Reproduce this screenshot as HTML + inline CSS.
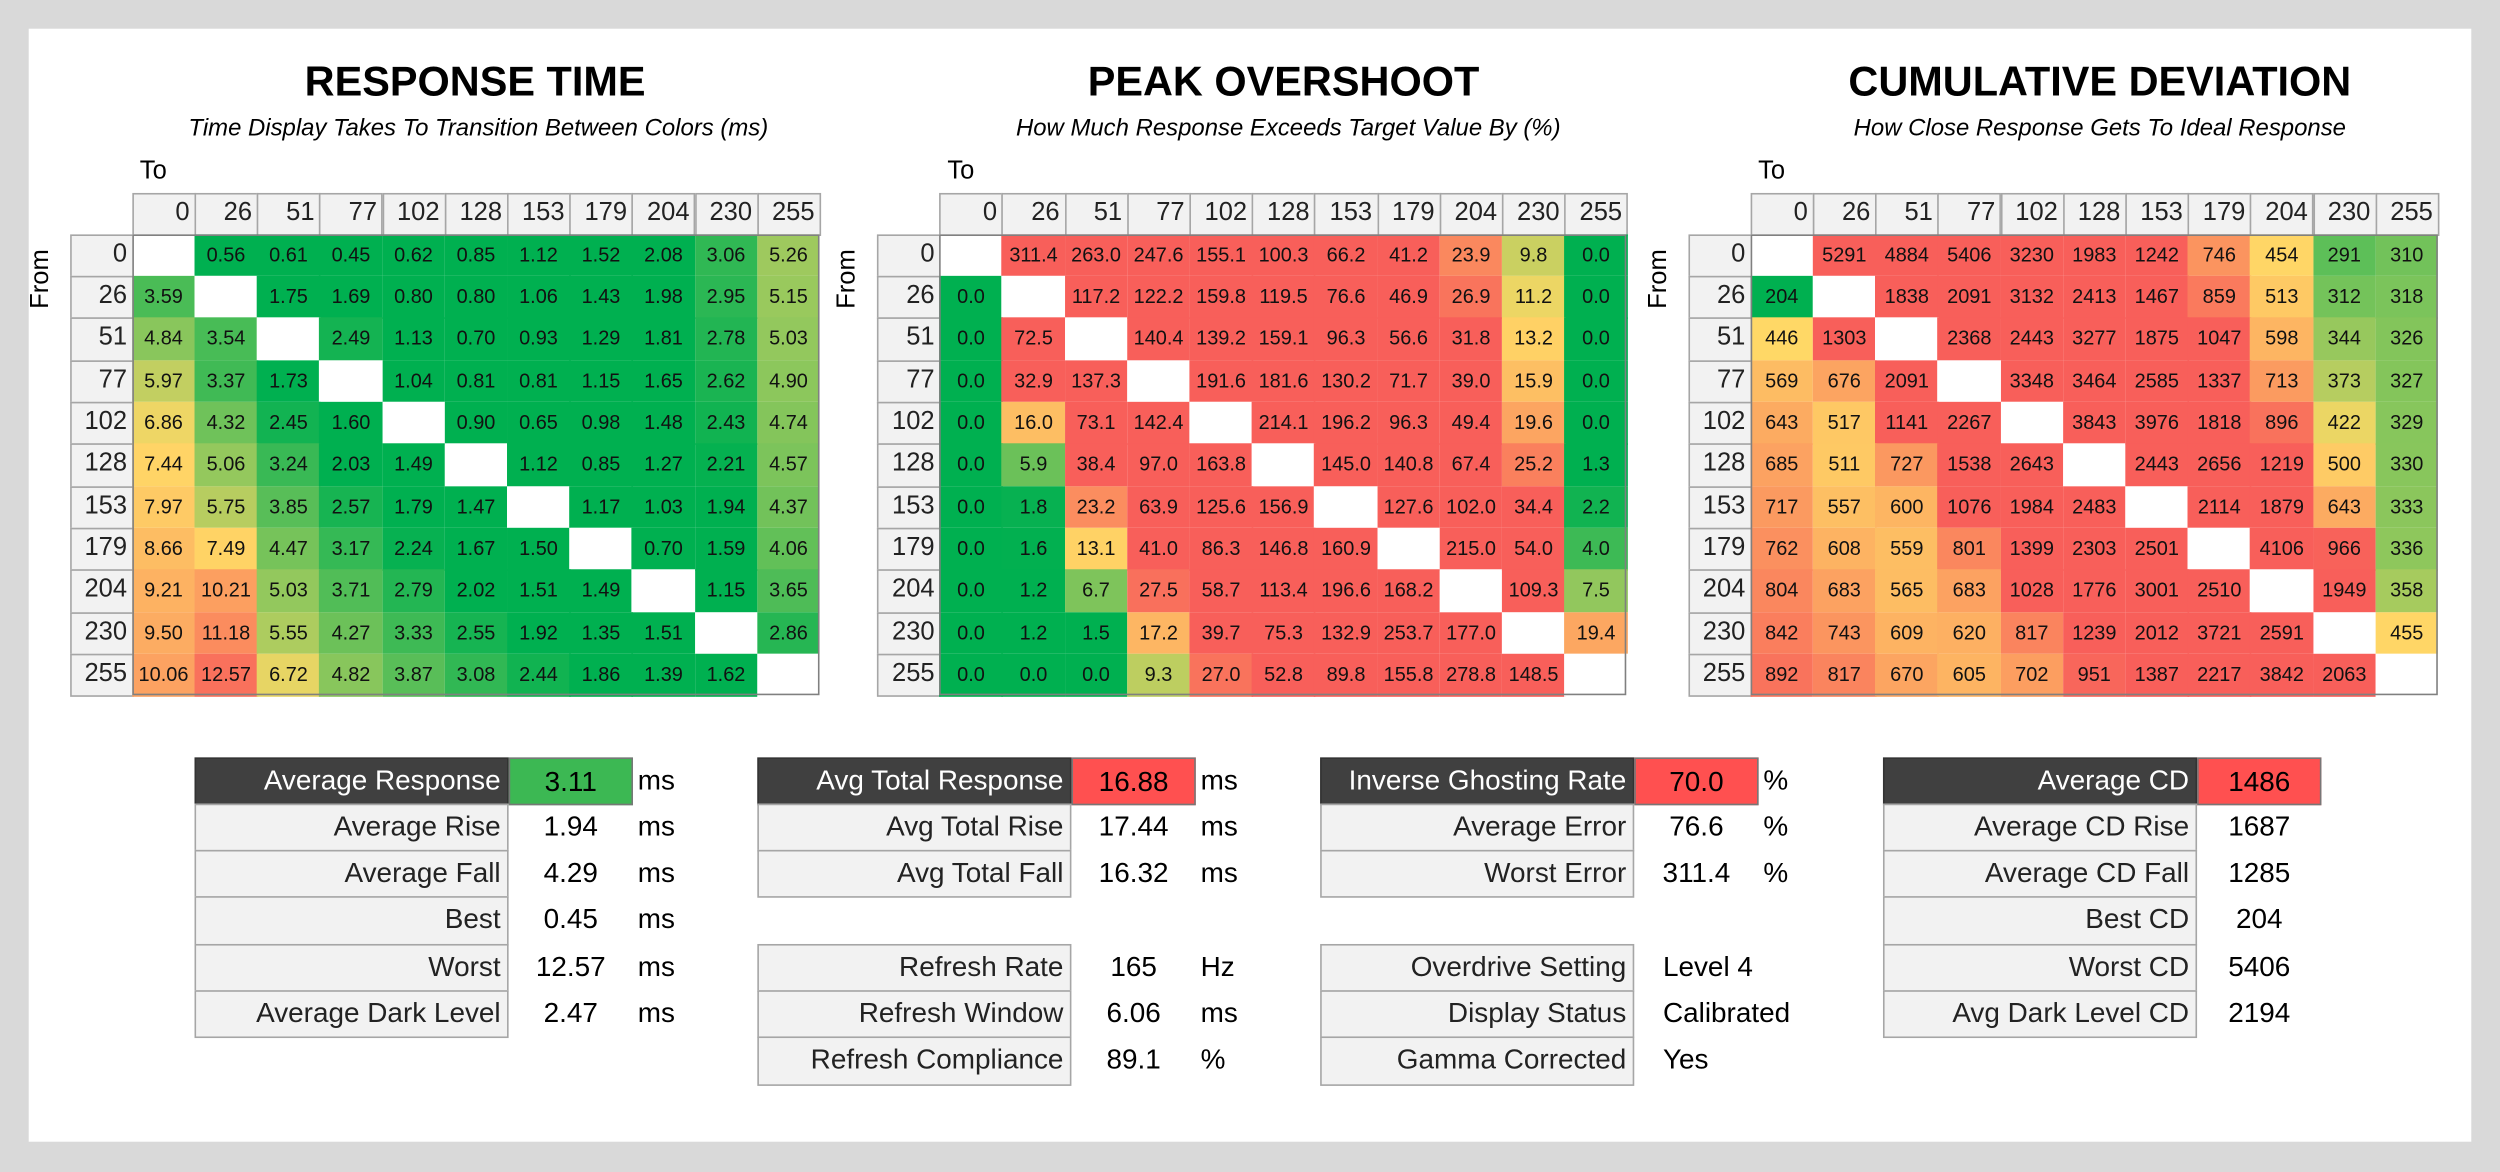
<!DOCTYPE html>
<html><head><meta charset="utf-8">
<style>
html,body{margin:0;padding:0;width:2500px;height:1172px;overflow:hidden;background:#d9d9d9;}
#root{position:absolute;left:0;top:0;width:1568px;height:735px;transform:scale(1.59439,1.59456);transform-origin:0 0;font-family:"Liberation Sans Narrow","Liberation Sans",sans-serif;}
#panel{position:absolute;left:18px;top:18px;width:1532px;height:698px;background:#fff;}
.a{position:absolute;box-sizing:border-box;white-space:nowrap;}
.title{font-weight:bold;font-size:26px;text-align:center;width:500px;}
.sub{font-style:italic;font-size:15px;text-align:center;width:500px;}
.hd{background:#f2f2f2;border:1px solid #a6a6a6;font-size:16px;text-align:right;padding-right:3px;line-height:24px;color:#222;}
.cell{font-size:12.5px;text-align:center;color:#111;}
.lab{background:#f2f2f2;border:1px solid #a6a6a6;font-size:17.5px;text-align:right;padding-right:4px;color:#222;}
.val{font-size:17.5px;text-align:center;color:#000;}
</style></head>
<body>
<div id="root">
<div id="panel"></div>
<div class="a title" style="left:48px;top:36px">RESPONSE TIME</div>
<div class="a sub" style="left:50px;top:72px">Time Display Takes To Transition Between Colors (ms)</div>
<div class="a title" style="left:555px;top:36px">PEAK OVERSHOOT</div>
<div class="a sub" style="left:558px;top:72px">How Much Response Exceeds Target Value By (%)</div>
<div class="a title" style="left:1067px;top:36px">CUMULATIVE DEVIATION</div>
<div class="a sub" style="left:1067px;top:72px">How Close Response Gets To Ideal Response</div>
</div>
<script>
const levels=["0","26","51","77","102","128","153","179","204","230","255"];
const rtRows=[
[null,0.56,0.61,0.45,0.62,0.85,1.12,1.52,2.08,3.06,5.26],
[3.59,null,1.75,1.69,0.80,0.80,1.06,1.43,1.98,2.95,5.15],
[4.84,3.54,null,2.49,1.13,0.70,0.93,1.29,1.81,2.78,5.03],
[5.97,3.37,1.73,null,1.04,0.81,0.81,1.15,1.65,2.62,4.90],
[6.86,4.32,2.45,1.60,null,0.90,0.65,0.98,1.48,2.43,4.74],
[7.44,5.06,3.24,2.03,1.49,null,1.12,0.85,1.27,2.21,4.57],
[7.97,5.75,3.85,2.57,1.79,1.47,null,1.17,1.03,1.94,4.37],
[8.66,7.49,4.47,3.17,2.24,1.67,1.50,null,0.70,1.59,4.06],
[9.21,10.21,5.03,3.71,2.79,2.02,1.51,1.49,null,1.15,3.65],
[9.50,11.18,5.55,4.27,3.33,2.55,1.92,1.35,1.51,null,2.86],
[10.06,12.57,6.72,4.82,3.87,3.08,2.44,1.86,1.39,1.62,null]];
const osRows=[
[null,311.4,263.0,247.6,155.1,100.3,66.2,41.2,23.9,9.8,0.0],
[0.0,null,117.2,122.2,159.8,119.5,76.6,46.9,26.9,11.2,0.0],
[0.0,72.5,null,140.4,139.2,159.1,96.3,56.6,31.8,13.2,0.0],
[0.0,32.9,137.3,null,191.6,181.6,130.2,71.7,39.0,15.9,0.0],
[0.0,16.0,73.1,142.4,null,214.1,196.2,96.3,49.4,19.6,0.0],
[0.0,5.9,38.4,97.0,163.8,null,145.0,140.8,67.4,25.2,1.3],
[0.0,1.8,23.2,63.9,125.6,156.9,null,127.6,102.0,34.4,2.2],
[0.0,1.6,13.1,41.0,86.3,146.8,160.9,null,215.0,54.0,4.0],
[0.0,1.2,6.7,27.5,58.7,113.4,196.6,168.2,null,109.3,7.5],
[0.0,1.2,1.5,17.2,39.7,75.3,132.9,253.7,177.0,null,19.4],
[0.0,0.0,0.0,9.3,27.0,52.8,89.8,155.8,278.8,148.5,null]];
const cdRows=[
[null,5291,4884,5406,3230,1983,1242,746,454,291,310],
[204,null,1838,2091,3132,2413,1467,859,513,312,318],
[446,1303,null,2368,2443,3277,1875,1047,598,344,326],
[569,676,2091,null,3348,3464,2585,1337,713,373,327],
[643,517,1141,2267,null,3843,3976,1818,896,422,329],
[685,511,727,1538,2643,null,2443,2656,1219,500,330],
[717,557,600,1076,1984,2483,null,2114,1879,643,333],
[762,608,559,801,1399,2303,2501,null,4106,966,336],
[804,683,565,683,1028,1776,3001,2510,null,1949,358],
[842,743,609,620,817,1239,2012,3721,2591,null,455],
[892,817,670,605,702,951,1387,2217,3842,2063,null]];
const rtStops=[2.1,7.2,13.5];
const osStops=[1.5,12,30];
const cdStops=[205,440,980];

const root=document.getElementById('root');
const G=[0,176,80],Y=[255,217,102],R=[248,95,90];
function mix(a,b,t){return 'rgb('+a.map((v,i)=>Math.round(v+(b[i]-v)*t)).join(',')+')';}
function colorFor(v,s){
  if(v<=s[0])return mix(G,G,0);
  if(v<=s[1])return mix(G,Y,(v-s[0])/(s[1]-s[0]));
  if(v<=s[2])return mix(Y,R,(v-s[1])/(s[2]-s[1]));
  return mix(R,R,0);
}
function mk(cls,x,y,w,h,txt){
  const d=document.createElement('div');d.className='a '+cls;
  d.style.left=x+'px';d.style.top=y+'px';d.style.width=w+'px';d.style.height=h+'px';
  if(txt!==undefined)d.textContent=txt;root.appendChild(d);return d;
}
const colW=39.2,rowH=26.35,headY=121,headH=25.5,rowY0=146.5;
function heat(prefix,x0,rows,fmt,stops){
  const cx=x0+colW;
  const to=mk('',cx+5,99,30,20,'To');to.style.fontSize='16px';
  
  
  const fr=mk('',x0-42,165,50,20,'From');fr.style.fontSize='16px';fr.style.transform='rotate(-90deg)';fr.style.textAlign='center';
  
  
  levels.forEach((l,j)=>{
    const h=mk('hd',cx+j*colW,headY,colW+1,headH+1,l);
    
    
    const r=mk('hd',x0,rowY0+j*rowH,colW+1,rowH+1,l);r.style.lineHeight=(rowH-2)+'px';
    
    
  });
  rows.forEach((row,i)=>{row.forEach((v,j)=>{
    const c=mk('cell',cx+j*colW,rowY0+i*rowH,colW+0.5,rowH+0.5,v===null?'':fmt(v));
    c.style.lineHeight=rowH+'px';
    c.style.background=v===null?'#fff':colorFor(v,stops);
    
    
  });});
  const b=mk('',cx,rowY0,11*colW,11*rowH);b.style.border='1px solid #808080';
  
  
}
heat('response-time',43.5,rtRows,v=>v.toFixed(2),rtStops);
heat('overshoot',550,osRows,v=>v.toFixed(1),osStops);
heat('cum-deviation',1058.5,cdRows,v=>String(v),cdStops);

const tY0=474.5,tH=29.3;
function trow(prefix,tx,i,label,value,unit,hl){
  const y=tY0+i*tH;
  const l=mk('lab',tx,y,197,tH+1,label);l.style.lineHeight=(tH-2)+'px';
  if(hl){l.style.background='#404040';l.style.color='#fff';l.style.borderColor='#333';}
  
  
  const v=mk('val',tx+197,y,78,tH+1,value);v.style.lineHeight=tH+'px';
  if(hl){v.style.background=hl;v.style.border='1px solid #777';}
  if(value.length>6){v.style.textAlign='left';v.style.paddingLeft='18px';v.style.width='120px';}
  
  
  if(unit){const u=mk('val',tx+278,y,30,tH,unit);u.style.textAlign='left';u.style.lineHeight=tH+'px';
    
    }
}
trow('average-response',122,0,'Average Response','3.11','ms','#3cb853');
trow('average-rise',122,1,'Average Rise','1.94','ms');
trow('average-fall',122,2,'Average Fall','4.29','ms');
trow('best',122,3,'Best','0.45','ms');
trow('worst',122,4,'Worst','12.57','ms');
trow('average-dark-level',122,5,'Average Dark Level','2.47','ms');
trow('avg-total-response',475,0,'Avg Total Response','16.88','ms','#ff5050');
trow('avg-total-rise',475,1,'Avg Total Rise','17.44','ms');
trow('avg-total-fall',475,2,'Avg Total Fall','16.32','ms');
trow('refresh-rate',475,4,'Refresh Rate','165','Hz');
trow('refresh-window',475,5,'Refresh Window','6.06','ms');
trow('refresh-compliance',475,6,'Refresh Compliance','89.1','%');
trow('inverse-ghosting-rate',828,0,'Inverse Ghosting Rate','70.0','%','#ff5050');
trow('average-error',828,1,'Average Error','76.6','%');
trow('worst-error',828,2,'Worst Error','311.4','%');
trow('overdrive-setting',828,4,'Overdrive Setting','Level 4 ','');
trow('display-status',828,5,'Display Status','Calibrated','');
trow('gamma-corrected',828,6,'Gamma Corrected','Yes    ','');
trow('average-cd',1181,0,'Average CD','1486','','#ff5050');
trow('average-cd-rise',1181,1,'Average CD Rise','1687','');
trow('average-cd-fall',1181,2,'Average CD Fall','1285','');
trow('best-cd',1181,3,'Best CD','204','');
trow('worst-cd',1181,4,'Worst CD','5406','');
trow('avg-dark-level-cd',1181,5,'Avg Dark Level CD','2194','');
</script>
</body></html>
